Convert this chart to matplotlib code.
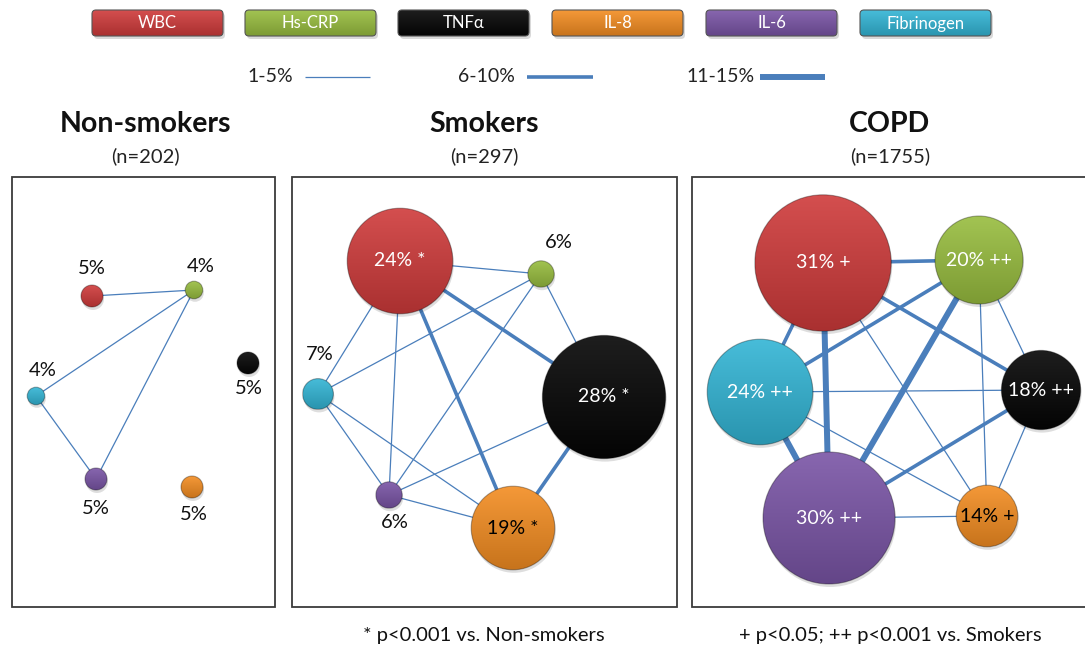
import matplotlib
matplotlib.use("Agg")
import numpy as np
import matplotlib.pyplot as plt
from matplotlib.colors import to_rgb
from matplotlib.patches import Circle, FancyBboxPatch, Rectangle

plt.rcParams['font.family'] = ['Lato', 'DejaVu Sans']

# ---- data ----
markers = ["WBC", "Hs-CRP", "TNFα", "IL-8", "IL-6", "Fibrinogen"]
marker_colors = ["#cf3b3b", "#98bd3f", "#050505", "#f38d22", "#7a55a6", "#33b5d5"]
text_on_node = ["white", "white", "white", "black", "white", "white"]

panel_titles = ["Non-smokers", "Smokers", "COPD"]
panel_n = ["(n=202)", "(n=297)", "(n=1755)"]

nonsmoker_pct = [5, 4, 5, 5, 5, 4]
smoker_pct = [24, 6, 28, 19, 6, 7]
copd_pct = [31, 20, 18, 14, 30, 24]

nonsmoker_sig = ["", "", "", "", "", ""]
smoker_sig = ["*", "", "*", "*", "", ""]
copd_sig = ["+", "++", "++", "+", "++", "++"]

# links: (marker, marker, level) level 1 = 1-5%, 2 = 6-10%, 3 = 11-15%
nonsmoker_links = [("WBC", "Hs-CRP", 1), ("Hs-CRP", "Fibrinogen", 1),
                   ("Hs-CRP", "IL-6", 1), ("Fibrinogen", "IL-6", 1)]
smoker_links = [("WBC", "Hs-CRP", 1), ("WBC", "TNFα", 2), ("WBC", "IL-8", 2),
                ("WBC", "Fibrinogen", 1), ("WBC", "IL-6", 1),
                ("Hs-CRP", "Fibrinogen", 1), ("Hs-CRP", "IL-6", 1), ("Hs-CRP", "TNFα", 1),
                ("Fibrinogen", "IL-6", 1), ("Fibrinogen", "IL-8", 1),
                ("IL-6", "TNFα", 1), ("IL-6", "IL-8", 1), ("TNFα", "IL-8", 2)]
copd_links = [("WBC", "Hs-CRP", 2), ("WBC", "TNFα", 2), ("WBC", "Fibrinogen", 2),
              ("WBC", "IL-6", 3), ("WBC", "IL-8", 1),
              ("Hs-CRP", "Fibrinogen", 2), ("Hs-CRP", "IL-6", 3), ("Hs-CRP", "TNFα", 1),
              ("Hs-CRP", "IL-8", 1), ("Fibrinogen", "TNFα", 1), ("Fibrinogen", "IL-6", 3),
              ("Fibrinogen", "IL-8", 1), ("IL-6", "TNFα", 2), ("IL-6", "IL-8", 1),
              ("TNFα", "IL-8", 1)]

legend_levels = ["1-5%", "6-10%", "11-15%"]
footnotes = ["", "* p<0.001 vs. Non-smokers", "+ p<0.05; ++ p<0.001 vs. Smokers"]

# ---- layout (pixel positions) ----
node_xy = [
    {"WBC": (92, 296), "Hs-CRP": (194, 290), "TNFα": (248, 363),
     "IL-8": (192, 487), "IL-6": (96, 479), "Fibrinogen": (36, 396)},
    {"WBC": (400, 261), "Hs-CRP": (541, 274), "TNFα": (604, 397),
     "IL-8": (513, 528), "IL-6": (389, 495), "Fibrinogen": (318, 394)},
    {"WBC": (823, 263), "Hs-CRP": (979, 260), "TNFα": (1041, 390),
     "IL-8": (987, 516), "IL-6": (829, 518), "Fibrinogen": (760, 392)},
]
outside_offset = [
    {"WBC": (0, -27), "Hs-CRP": (7, -24), "TNFα": (1, 26),
     "IL-8": (2, 28), "IL-6": (0, 29), "Fibrinogen": (7, -26)},
    {"Hs-CRP": (18, -32), "IL-6": (6, 27), "Fibrinogen": (2, -40)},
    {},
]
boxes = [(12, 177, 263, 430), (292, 177, 385, 430), (692, 177, 420, 430)]
title_x = [145, 484, 890]
px_per_pct = 2.2
link_width = {1: 0.9, 2: 2.6, 3: 4.3}
link_color = "#4a7ebb"

pcts = [nonsmoker_pct, smoker_pct, copd_pct]
sigs = [nonsmoker_sig, smoker_sig, copd_sig]
links = [nonsmoker_links, smoker_links, copd_links]


def shaded(color, n=64):
    # vertical gradient, lighter on top and darker at the bottom
    base = np.array(to_rgb(color))
    t = np.linspace(0, 1, n)[:, None]
    light = base + (1 - base) * 0.10
    dark = base * 0.82
    rgb = light * (1 - t) + dark * t
    return np.repeat(rgb[:, None, :], n, axis=1)


fig = plt.figure(figsize=(10.85, 6.46), dpi=100)
ax = fig.add_axes([0, 0, 1, 1])
ax.set_xlim(0, 1085)
ax.set_ylim(646, 0)
ax.axis("off")

# top legend: marker boxes
box_x0 = [92, 245, 398, 552, 706, 860]
for name, col, x0 in zip(markers, marker_colors, box_x0):
    ax.add_patch(FancyBboxPatch((x0 + 2, 13), 131, 26,
                                boxstyle="round,pad=0,rounding_size=4",
                                facecolor="#000000", alpha=0.15, edgecolor="none", zorder=1))
    bp = FancyBboxPatch((x0, 10), 131, 26, boxstyle="round,pad=0,rounding_size=4",
                        facecolor="none", edgecolor="#555555", linewidth=0.8, zorder=3)
    ax.add_patch(bp)
    im = ax.imshow(shaded(col), extent=(x0, x0 + 131, 36, 10), origin="upper",
                   zorder=2, interpolation="bilinear")
    im.set_clip_path(bp)
    ax.text(x0 + 65.5, 23.5, name, ha="center", va="center", color="white",
            fontsize=12, zorder=4)

# line width legend
lev_text_x = [293, 515, 755]
lev_line_x = [(305, 370), (527, 593), (760, 825)]
for lev, (lab, tx, (l0, l1)) in enumerate(zip(legend_levels, lev_text_x, lev_line_x), start=1):
    ax.text(tx, 77, lab, ha="right", va="center", fontsize=14, color="#222222")
    ax.plot([l0, l1], [77, 77], color=link_color, linewidth=link_width[lev],
            solid_capstyle="butt")

for p in range(3):
    bx, by, bw, bh = boxes[p]
    ax.add_patch(Rectangle((bx, by), bw, bh, facecolor="white",
                           edgecolor="#3a3a3a", linewidth=1.3, zorder=0))
    ax.text(title_x[p], 124, panel_titles[p], ha="center", va="center",
            fontsize=20.5, fontweight="bold", color="#111111")
    ax.text(title_x[p], 156, panel_n[p], ha="center", va="center",
            fontsize=14.5, color="#222222")
    if footnotes[p]:
        ax.text(title_x[p], 635, footnotes[p], ha="center", va="center",
                fontsize=14.5, color="#111111")

    xy = node_xy[p]
    for a, b, lev in links[p]:
        (x0, y0), (x1, y1) = xy[a], xy[b]
        ax.plot([x0, x1], [y0, y1], color=link_color, linewidth=link_width[lev],
                solid_capstyle="butt", zorder=1)

    for i, name in enumerate(markers):
        cx, cy = xy[name]
        r = pcts[p][i] * px_per_pct
        # soft shadow
        ax.add_patch(Circle((cx + 1, cy + 3), r, facecolor="#000000", alpha=0.13,
                            edgecolor="none", zorder=2))
        circ = Circle((cx, cy), r, facecolor="none",
                      edgecolor="#00000050", linewidth=0.8, zorder=4)
        ax.add_patch(circ)
        im = ax.imshow(shaded(marker_colors[i]), extent=(cx - r, cx + r, cy + r, cy - r),
                       origin="upper", zorder=3, interpolation="bilinear")
        im.set_clip_path(circ)
        label = f"{pcts[p][i]}%" + (f" {sigs[p][i]}" if sigs[p][i] else "")
        if name in outside_offset[p]:
            dx, dy = outside_offset[p][name]
            ax.text(cx + dx, cy + dy, label, ha="center", va="center",
                    fontsize=14.5, color="#111111", zorder=5)
        else:
            ax.text(cx, cy, label, ha="center", va="center", fontsize=14,
                    color=text_on_node[i], zorder=5)

ax.set_xlim(0, 1085)
ax.set_ylim(646, 0)
fig.savefig("out.png", dpi=100)
